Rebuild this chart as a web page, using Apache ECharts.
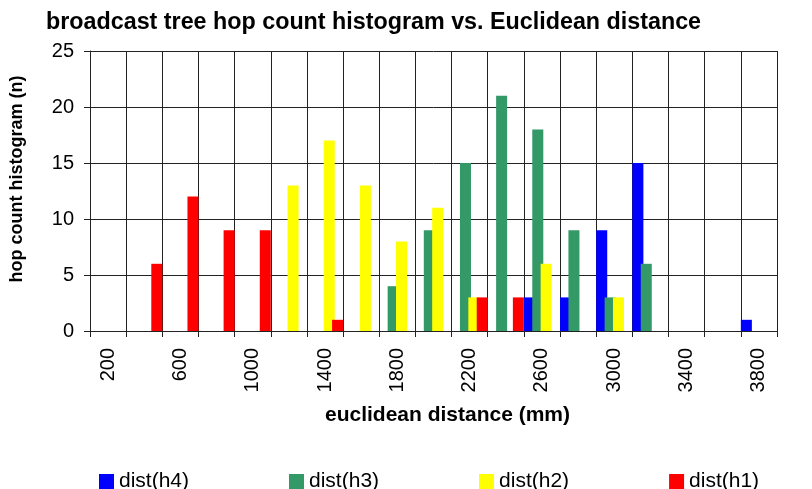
<!DOCTYPE html>
<html>
<head>
<meta charset="utf-8">
<script src="https://cdn.jsdelivr.net/npm/echarts@6/dist/echarts.min.js"></script>
<style>
  html, body { margin: 0; padding: 0; background: #fff; }
</style>
</head>
<body>
<div id="main" style="width: 812px; height: 489px;"></div>
<script>
// distance buckets (mm)
var distances = ['200', '400', '600', '800', '1000', '1200', '1400', '1600', '1800', '2000',
  '2200', '2400', '2600', '2800', '3000', '3200', '3400', '3600', '3800'];
var h4 = [0, 0, 0, 0, 0, 0, 0, 0, 0, 0, 0, 0, 3, 3, 9, 15, 0, 0, 1];
var h3 = [0, 0, 0, 0, 0, 0, 0, 0, 4, 9, 15, 21, 18, 9, 3, 6, 0, 0, 0];
var h2 = [0, 0, 0, 0, 0, 13, 17, 13, 8, 11, 3, 0, 6, 0, 3, 0, 0, 0, 0];
var h1 = [0, 6, 12, 9, 9, 0, 1, 0, 0, 0, 3, 3, 0, 0, 0, 0, 0, 0, 0];
var yTicks = [0, 5, 10, 15, 20, 25];

var font = 'Liberation Sans';
var myChart = echarts.init(document.getElementById('main'));

function bar(name, data, color) {
  return {
    name: name,
    type: 'bar',
    data: data,
    barGap: '-24%',
    barCategoryGap: '0%',
    itemStyle: { color: color },
    emphasis: { disabled: true }
  };
}

var option = {
  animation: false,
  title: {
    text: 'broadcast tree hop count histogram vs. Euclidean distance',
    left: 41,
    top: 6,
    textStyle: { fontFamily: font, fontSize: 23.3, fontWeight: 'bold', color: '#000' }
  },
  legend: {
    left: 94,
    top: 466,
    itemWidth: 15,
    itemHeight: 15,
    itemGap: 100,
    icon: 'rect',
    textStyle: { fontFamily: font, fontSize: 21, color: '#000' },
    data: ['dist(h4)', 'dist(h3)', 'dist(h2)', 'dist(h1)']
  },
  grid: { left: 84, right: 35, top: 51, bottom: 158, containLabel: false },
  xAxis: {
    type: 'category',
    data: distances,
    name: 'euclidean distance (mm)',
    nameLocation: 'middle',
    nameGap: 74,
    nameTextStyle: { fontFamily: font, fontSize: 21, fontWeight: 'bold', color: '#000', padding: [0, 0, 0, 28] },
    axisLine: { lineStyle: { color: '#222', width: 1 } },
    axisTick: { show: true, interval: 0, length: 6, lineStyle: { color: '#222' } },
    axisLabel: { interval: 1, rotate: 90, margin: 17, fontFamily: font, fontSize: 20, color: '#000' },
    splitLine: { show: true, interval: 0, lineStyle: { color: '#222', width: 1 } }
  },
  yAxis: {
    type: 'value',
    min: yTicks[0],
    max: yTicks[yTicks.length - 1],
    interval: 5,
    name: 'hop count histogram (n)',
    nameLocation: 'middle',
    nameGap: 64,
    nameTextStyle: { fontFamily: font, fontSize: 18, fontWeight: 'bold', color: '#000', padding: [0, 0, 0, 24] },
    axisLine: { show: true, lineStyle: { color: '#222', width: 1 } },
    axisTick: { show: true, length: 6, lineStyle: { color: '#222' } },
    axisLabel: { margin: 16, fontFamily: font, fontSize: 20, color: '#000' },
    splitLine: { show: true, lineStyle: { color: '#222', width: 1 } }
  },
  series: [
    bar('dist(h4)', h4, '#0000FF'),
    bar('dist(h3)', h3, '#339966'),
    bar('dist(h2)', h2, '#FFFF00'),
    bar('dist(h1)', h1, '#FF0000')
  ]
};

myChart.setOption(option);
</script>
</body>
</html>
